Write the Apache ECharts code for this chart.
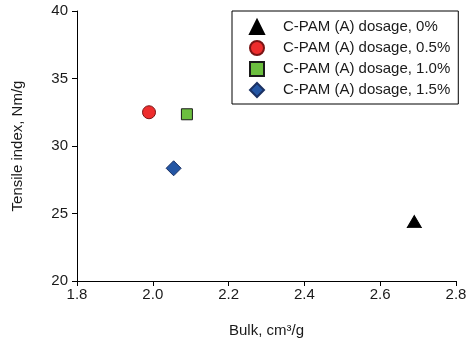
<!DOCTYPE html>
<html><head><meta charset="utf-8">
<script src="https://cdn.jsdelivr.net/npm/echarts@6/dist/echarts.min.js"></script>
<style>html,body{margin:0;padding:0;background:#fff}#c{width:474px;height:343px}</style>
</head><body><div id="c"></div>
<script>
const seriesNames = ['C-PAM (A) dosage, 0%','C-PAM (A) dosage, 0.5%','C-PAM (A) dosage, 1.0%','C-PAM (A) dosage, 1.5%'];
const bulkValues = [2.69, 1.99, 2.09, 2.055];
const tensileValues = [24.4, 32.5, 32.35, 28.35];
const xTicks = [1.8, 2.0, 2.2, 2.4, 2.6, 2.8];
const yTicks = [20, 25, 30, 35, 40];

const symbols = ['triangle','circle','rect','diamond'];
const sizes = [[14,12],13,11,[15,15]];
const colors = ['#000000','#ee2d2d','#6cbf3f','#2456a4'];
const borders = ['#000000','#7a1414','#1a1a1a','#1b3163'];

const chart = echarts.init(document.getElementById('c'), null, {renderer:'canvas'});
const font = 'Liberation Sans, Arial, sans-serif';
chart.setOption({
  animation:false,
  grid:{left:77,right:18,top:11,bottom:61,containLabel:false},
  xAxis:{type:'value',min:xTicks[0],max:xTicks[xTicks.length-1],interval:0.2,
    name:'Bulk, cm³/g',nameLocation:'middle',nameGap:42,
    nameTextStyle:{fontFamily:font,fontSize:15,color:'#1a1a1a'},
    axisLine:{lineStyle:{color:'#000',width:1}},
    axisTick:{show:true,length:5,inside:false,lineStyle:{color:'#000'}},
    axisLabel:{fontFamily:font,fontSize:15,color:'#1a1a1a',margin:6,formatter:v=>v.toFixed(1)},
    splitLine:{show:false}},
  yAxis:{type:'value',min:yTicks[0],max:yTicks[yTicks.length-1],interval:5,
    name:'Tensile index, Nm/g',nameLocation:'middle',nameGap:52,
    nameTextStyle:{fontFamily:font,fontSize:15,color:'#1a1a1a'},
    axisLine:{show:true,lineStyle:{color:'#000',width:1}},
    axisTick:{show:true,length:5,inside:false,lineStyle:{color:'#000'}},
    axisLabel:{fontFamily:font,fontSize:15,color:'#1a1a1a',margin:9},
    splitLine:{show:false}},
  legend:{orient:'vertical',left:232,top:11,
    padding:[8,8,6,17],itemGap:5,itemWidth:14,itemHeight:14,
    borderColor:'#000',borderWidth:1,
    textStyle:{fontFamily:font,fontSize:15,color:'#1a1a1a',padding:[0,0,0,14]},
    data:seriesNames},
  series: seriesNames.map((n,i)=>({
    name:n,type:'scatter',
    symbol:symbols[i],symbolSize:sizes[i],
    itemStyle:{color:colors[i],borderColor:borders[i],borderWidth:1,opacity:1},
    data:[[bulkValues[i],tensileValues[i]]]
  }))
});
</script></body></html>
